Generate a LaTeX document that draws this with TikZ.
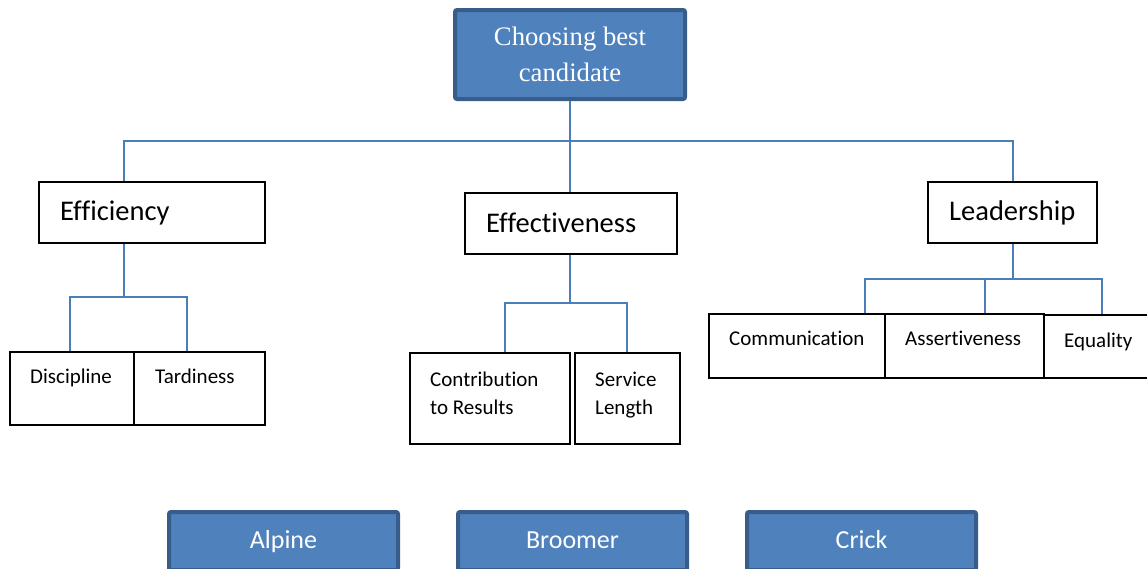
\documentclass[tikz,border=0pt]{standalone}
\usepackage{fontspec}
\setmainfont{Carlito}[Ligatures={NoCommon}]
\newfontfamily\headfont{Liberation Serif}
\definecolor{boxblue}{HTML}{4F81BD}
\definecolor{boxedge}{HTML}{385D8A}
\definecolor{linkblue}{HTML}{4A7EBB}
\tikzset{
  goal/.style={draw=boxedge, fill=boxblue, line width=4pt, rounded corners=2pt, text=white, inner sep=0pt},
  cand/.style={goal, minimum width=229pt, minimum height=58pt, text height=19pt, text depth=5pt, font=\fontsize{26}{30}\selectfont},
  crit/.style={draw=black, line width=1.2pt, inner sep=0pt},
  lbl/.style={anchor=base west, inner sep=0pt},
  big/.style={lbl, font=\fontsize{28.5}{34}\selectfont},
  small/.style={lbl, font=\fontsize{21}{28}\selectfont, align=left},
  link/.style={draw=linkblue, line width=2pt},
}
\begin{document}
\begin{tikzpicture}[x=1pt,y=-1pt]
\useasboundingbox (0,0) rectangle (1147,568);
\clip (0,0) rectangle (1147,568);

\node[goal, minimum width=230pt, minimum height=89pt, align=center, font=\headfont\fontsize{26.7}{36}\selectfont] (top) at (570,54.5) {Choosing best\\candidate};

% criteria
\node[crit, minimum width=226pt, minimum height=61pt] (eff) at (152,212.5) {};
\node[crit, minimum width=212pt, minimum height=61pt] (effv) at (571,223.5) {};
\node[crit, minimum width=169pt, minimum height=61pt] (lead) at (1012.5,212.5) {};
\node[big] (efft) at (60,220) {Efficiency};
\node[big] (effvt) at (486,232) {Effectiveness};
\node[big] (leadt) at (949,220) {Leadership};

% sub-criteria
\node[crit, minimum width=124pt, minimum height=73pt] (disc) at (72,388.5) {};
\node[crit, minimum width=131pt, minimum height=73pt] (tard) at (199.5,388.5) {};
\node[crit, minimum width=160pt, minimum height=91pt] (contr) at (490,398.5) {};
\node[crit, minimum width=105pt, minimum height=91pt] (serv) at (627.5,398.5) {};
\node[crit, minimum width=176pt, minimum height=64pt] (comm) at (797,346) {};
\node[crit, minimum width=159pt, minimum height=64pt] (asrt) at (964.5,346) {};
\node[crit, minimum width=106pt, minimum height=63pt] (equal) at (1097,346.5) {};

\node[small] (disct) at (30,383) {Discipline};
\node[small] (tardt) at (155,383) {Tardiness};
\node[small] (contrt) at (430,414) {Contribution\\to Results};
\node[small] (servt) at (595,414) {Service\\Length};
\node[small] (commt) at (729,345) {Communication};
\node[small] (asrtt) at (905,345) {Assertiveness};
\node[small] (equalt) at (1064,347) {Equality};

% candidates
\node[cand] (alp) at (283.5,541) {Alpine};
\node[cand] (broo) at (572.5,541) {Broomer};
\node[cand] (cric) at (861.5,541) {Crick};

% connectors
\coordinate (bl) at (124,141);
\coordinate (br) at (1013,141);
\draw[link] (top.south) -- (top.south |- bl) -- (top.south |- effv.north);
\draw[link] (bl |- eff.north) -- (bl) -- (br) -- (br |- lead.north);

\coordinate (ea) at (70,297);
\coordinate (eb) at (187,297);
\draw[link] (bl |- eff.south) -- (bl |- ea);
\draw[link] (ea |- disc.north) -- (ea) -- (eb) -- (eb |- tard.north);

\coordinate (ca) at (505,303);
\coordinate (cb) at (627,303);
\draw[link] (top.south |- effv.south) -- (top.south |- ca);
\draw[link] (ca |- contr.north) -- (ca) -- (cb) -- (cb |- serv.north);

\coordinate (la) at (865,279);
\coordinate (lb) at (985,279);
\coordinate (lc) at (1102,279);
\draw[link] (br |- lead.south) -- (br |- la);
\draw[link] (la |- comm.north) -- (la) -- (lc) -- (lc |- equal.north);
\draw[link] (lb) -- (lb |- asrt.north);

\end{tikzpicture}
\end{document}
